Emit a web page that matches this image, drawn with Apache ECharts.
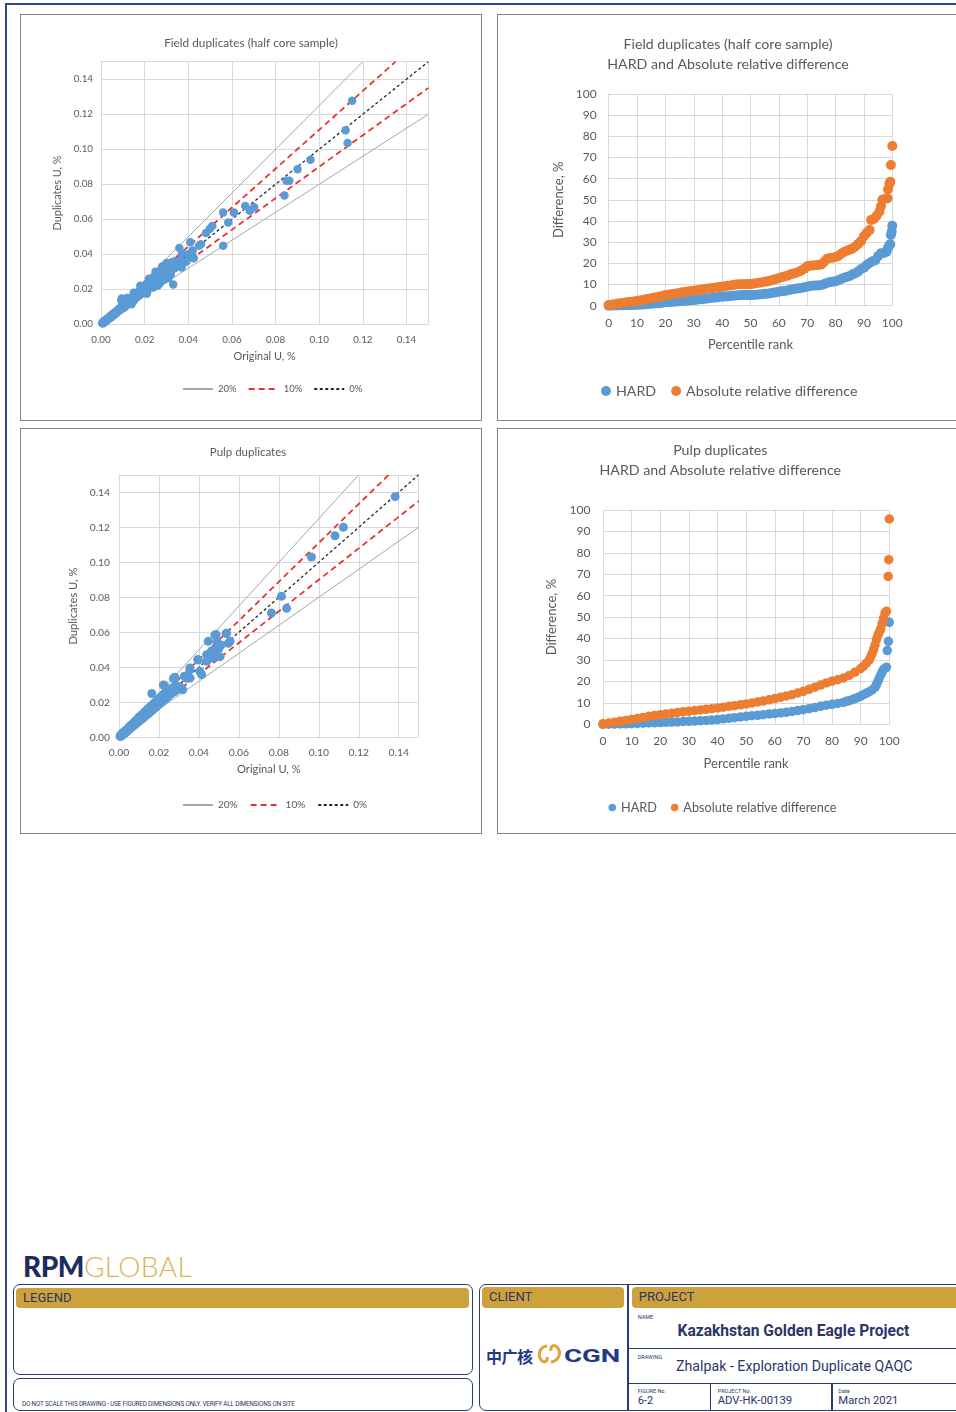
<!DOCTYPE html>
<html><head><meta charset="utf-8">
<script src="https://cdn.jsdelivr.net/npm/echarts@6/dist/echarts.min.js"></script>
<style>
html,body{margin:0;padding:0;background:#fff;}
body{width:956px;height:1412px;position:relative;overflow:hidden;font-family:Roboto,'Noto Sans',sans-serif;color:#2B3568;}
.abs{position:absolute;white-space:nowrap;}
.panel{position:absolute;box-sizing:border-box;border:1.5px solid #858585;pointer-events:none;z-index:5;}
.chart{position:absolute;}
.box{position:absolute;box-sizing:border-box;border:1.5px solid #2B3A7A;border-radius:7px;}
.gold{position:absolute;background:#CDA23C;border-radius:4px;color:#2B3568;font-size:13px;line-height:20px;box-sizing:border-box;padding-left:7px;}
.tiny{position:absolute;font-size:5.5px;line-height:6px;color:#2B3568;white-space:nowrap;}
</style></head><body>
<!-- frame -->
<div class="abs" style="left:5px;top:3px;width:951px;height:1.6px;background:#2E4A88"></div>
<div class="abs" style="left:5px;top:3px;width:1.8px;height:1409px;background:#2E4A88"></div>

<div class="panel" style="left:20px;top:14px;width:462px;height:406.5px"></div>
<div class="panel" style="left:496.5px;top:14px;width:470px;height:406.5px"></div>
<div class="panel" style="left:20px;top:427.5px;width:462px;height:406px"></div>
<div class="panel" style="left:496.5px;top:427.5px;width:470px;height:406px"></div>

<div id="c1" class="chart" style="left:20px;top:15px;width:462px;height:405px"></div>
<div id="c2" class="chart" style="left:497px;top:15px;width:462px;height:405px"></div>
<div id="c3" class="chart" style="left:20px;top:428px;width:462px;height:405px"></div>
<div id="c4" class="chart" style="left:497px;top:428px;width:462px;height:405px"></div>

<!-- footer -->
<div class="abs" style="left:23px;top:1252px;height:28px;line-height:28px;font-family:Lato,sans-serif;font-size:28px;">
<span style="font-weight:900;color:#1F2A5E;letter-spacing:-0.5px">RPM</span><span style="font-weight:300;color:#DDB54A;letter-spacing:0.4px">GLOBAL</span></div>

<div class="box" style="left:12.5px;top:1284px;width:460px;height:91px"></div>
<div class="gold" style="left:16px;top:1287.7px;width:453px;height:20.3px">LEGEND</div>
<div class="box" style="left:12.5px;top:1377.5px;width:460px;height:33.5px"></div>
<div class="tiny" style="left:22px;top:1401px;font-size:6.3px;line-height:7px;letter-spacing:-0.15px">DO NOT SCALE THIS DRAWING - USE FIGURED DIMENSIONS ONLY. VERIFY ALL DIMENSIONS ON SITE</div>

<div class="box" style="left:478.5px;top:1284px;width:500px;height:127px"></div>
<div class="abs" style="left:627px;top:1284px;width:1.5px;height:127px;background:#2B3A7A"></div>
<div class="gold" style="left:482px;top:1287.3px;width:141.7px;height:20.4px">CLIENT</div>
<div class="gold" style="left:631.7px;top:1287.3px;width:340px;height:20.4px">PROJECT</div>
<div class="abs" style="left:486px;top:1345px;height:22px;line-height:22px;font-family:'Noto Sans CJK SC',sans-serif;font-weight:700;font-size:16px;color:#1F3A8A;letter-spacing:-0.5px">中广核</div>
<svg class="abs" style="left:535px;top:1342px" width="30" height="24" viewBox="0 0 30 24">
<path d="M12 4 C4 5 2 14 7 19 C10 21 13 19 12 15" fill="none" stroke="#E3A13A" stroke-width="3"/>
<path d="M16 20 C24 19 27 10 22 5 C19 2 15 4 16 9" fill="none" stroke="#E3A13A" stroke-width="3"/>
</svg>
<div class="abs" style="left:564px;top:1344px;height:24px;line-height:24px;font-family:Roboto,sans-serif;font-weight:700;font-size:19px;color:#1F3A8A;transform:scaleX(1.45);transform-origin:left center">CGN</div>

<div class="tiny" style="left:637.7px;top:1313.5px">NAME</div>
<div class="abs" style="left:677.5px;top:1321px;height:20px;line-height:20px;font-size:15.6px;font-weight:700;color:#2B3568">Kazakhstan Golden Eagle Project</div>
<div class="abs" style="left:627px;top:1347.5px;width:340px;height:1.5px;background:#2B3A7A"></div>
<div class="tiny" style="left:637.7px;top:1353.5px">DRAWING</div>
<div class="abs" style="left:676px;top:1356px;height:20px;line-height:20px;font-size:14.2px;color:#2B3568">Zhalpak - Exploration Duplicate QAQC</div>
<div class="abs" style="left:627px;top:1382.5px;width:340px;height:1.5px;background:#2B3A7A"></div>
<div class="abs" style="left:709.5px;top:1383px;width:1.5px;height:28px;background:#2B3A7A"></div>
<div class="abs" style="left:831px;top:1383px;width:1.5px;height:28px;background:#2B3A7A"></div>
<div class="tiny" style="left:637.7px;top:1388px">FIGURE No.</div>
<div class="abs" style="left:637.7px;top:1394px;height:14px;line-height:14px;font-size:11px;color:#2B3568">6-2</div>
<div class="tiny" style="left:717.7px;top:1388px">PROJECT No.</div>
<div class="abs" style="left:717.7px;top:1394px;height:14px;line-height:14px;font-size:11.3px;color:#2B3568">ADV-HK-00139</div>
<div class="tiny" style="left:838.3px;top:1388px">Date</div>
<div class="abs" style="left:838.3px;top:1394px;height:14px;line-height:14px;font-size:11.3px;color:#2B3568">March 2021</div>

<script>
// ---------------- DATA ----------------
const scatterTickLabels = ['0.00','0.02','0.04','0.06','0.08','0.10','0.12','0.14'];
const percentileTicks = [0,10,20,30,40,50,60,70,80,90,100];

// reference lines (Original, Duplicate) endpoints
const line20Upper = [[0,0],[0.12,0.15]];
const line20Lower = [[0,0],[0.15,0.12]];
const line10Upper = [[0,0],[0.135,0.15]];
const line10Lower = [[0,0],[0.15,0.135]];
const line0 = [[0,0],[0.15,0.15]];

// Field duplicates (half core): [original U %, duplicate U %]
const fieldPoints = [
[0.1151,0.1277],[0.1121,0.1109],[0.113,0.1035],[0.096,0.094],[0.0901,0.0885],[0.085,0.082],[0.0863,0.082],[0.0841,0.0736],
[0.0702,0.0668],[0.0682,0.0649],[0.0661,0.0676],[0.0609,0.0639],[0.056,0.0639],[0.0583,0.0582],[0.056,0.0449],[0.051,0.0561],
[0.0499,0.0546],[0.0481,0.0521],[0.0458,0.0457],[0.0449,0.0449],[0.0409,0.0468],[0.042,0.0422],[0.0359,0.0436],[0.04,0.04],
[0.0421,0.0381],[0.0391,0.0358],[0.0369,0.0325],[0.0374,0.0348],[0.0331,0.0228],[0.0324,0.0354],[0.0319,0.0301],[0.0336,0.032],
[0.0301,0.0301],[0.0255,0.0253],[0.027,0.030],[0.0308,0.0263],[0.0372,0.0406],[0.0364,0.0367],[0.0418,0.0396],[0.0425,0.0377],
[0.021,0.0175],[0.024,0.021],[0.027,0.0235],[0.029,0.0255],[0.031,0.027],[0.022,0.026],[0.025,0.03],[0.028,0.033],
[0.03,0.035],[0.018,0.022],[0.015,0.018],[0.012,0.015],[0.026,0.022],[0.032,0.0285],
[0.0005,0.0008],[0.0008,0.0004],[0.001,0.0012],[0.0012,0.0018],[0.0015,0.001],[0.0018,0.0022],[0.002,0.0016],[0.0023,0.0027],
[0.0025,0.002],[0.0028,0.0031],[0.003,0.0026],[0.0033,0.0036],[0.0035,0.003],[0.0038,0.0041],[0.004,0.0034],[0.0043,0.0047],
[0.0046,0.004],[0.0048,0.0052],[0.005,0.0046],[0.0053,0.0057],[0.0056,0.005],[0.0058,0.0062],[0.006,0.0055],[0.0063,0.0068],
[0.0066,0.006],[0.0068,0.0072],[0.007,0.0064],[0.0073,0.0078],[0.0076,0.007],[0.0078,0.0083],[0.008,0.0076],[0.0083,0.0088],
[0.0086,0.008],[0.0088,0.0094],[0.009,0.0085],[0.0093,0.0135],[0.0095,0.0148],[0.0097,0.0104],[0.01,0.0092],[0.0102,0.0125],
[0.0105,0.0113],[0.0108,0.0098],[0.011,0.0128],[0.0112,0.0105],[0.0115,0.0121],[0.0118,0.0135],[0.012,0.0112],[0.0123,0.0128],
[0.0126,0.0117],[0.0128,0.0141],[0.013,0.0122],[0.0133,0.0136],[0.0136,0.0128],[0.0138,0.0152],[0.014,0.0115],[0.0143,0.0147],
[0.0146,0.0138],[0.0148,0.0158],[0.015,0.0135],[0.0153,0.0161],[0.0156,0.0148],[0.0158,0.0171],[0.016,0.0152],[0.0163,0.0175],
[0.0166,0.0158],[0.0168,0.0182],[0.017,0.016],[0.0173,0.0186],[0.0176,0.0168],[0.0178,0.0192],[0.018,0.0172],[0.0183,0.0198],
[0.0186,0.0178],[0.0188,0.0203],[0.019,0.0181],[0.0193,0.021],[0.0196,0.0187],[0.0198,0.0215],[0.02,0.019],[0.0203,0.0224],
[0.0206,0.0196],[0.021,0.0228],[0.0213,0.0202],[0.0216,0.0235],[0.022,0.0208],[0.0223,0.0242],[0.0226,0.0214],[0.023,0.0255],
[0.0233,0.0222],[0.0236,0.0262],[0.024,0.0228],[0.0243,0.027],[0.0246,0.0236],[0.025,0.0278],[0.0253,0.0242],[0.0256,0.0265],
[0.026,0.0248],[0.0263,0.0285],[0.0266,0.0256],[0.027,0.0292],[0.0273,0.0262],[0.0276,0.0298],[0.028,0.0268],[0.0283,0.0305],
[0.0286,0.0274],[0.029,0.0312],[0.0293,0.0281],[0.0296,0.032],[0.03,0.0286],[0.0303,0.0328],[0.0306,0.0294],[0.031,0.0335],
[0.0314,0.0301],[0.0318,0.0342],[0.0322,0.0312],[0.0326,0.0355],[0.033,0.0318],[0.0335,0.0335],[0.034,0.0362],[0.0345,0.0328]
];

// Pulp duplicates: [original U %, duplicate U %]
const pulpPoints = [
[0.1382,0.1375],[0.1123,0.12],[0.1081,0.1152],[0.0963,0.103],[0.0813,0.0806],[0.0839,0.0737],[0.0763,0.071],[0.0536,0.0594],
[0.0556,0.0549],[0.0486,0.0587],[0.0447,0.0549],[0.0489,0.0549],[0.0501,0.051],[0.0464,0.0495],[0.0439,0.0472],[0.0467,0.0453],
[0.0506,0.0461],[0.0439,0.0434],[0.0394,0.0444],[0.0405,0.0377],[0.0414,0.0358],[0.0355,0.0396],[0.0355,0.0339],[0.0327,0.0349],
[0.028,0.0343],[0.0319,0.0272],[0.0227,0.0297],[0.0164,0.025],[0.048,0.0585],[0.0539,0.0594],[0.0547,0.0537],[0.0455,0.048],
[0.0397,0.0442],[0.0355,0.0385],[0.0339,0.0337],[0.0272,0.0337],[0.0305,0.0289],[0.0222,0.0299],[0.0492,0.0505],[0.0512,0.0528],
[0.047,0.0468],[0.0452,0.0455],[0.0478,0.0478],
[0.0005,0.0005],[0.0008,0.0012],[0.001,0.0006],[0.0012,0.0018],[0.0015,0.0011],[0.0018,0.0024],[0.002,0.0015],[0.0023,0.0028],
[0.0026,0.002],[0.0028,0.0033],[0.003,0.0026],[0.0033,0.0038],[0.0036,0.003],[0.0038,0.0042],[0.004,0.0034],[0.0043,0.0048],
[0.0046,0.004],[0.0048,0.0055],[0.005,0.0045],[0.0053,0.006],[0.0056,0.005],[0.0058,0.0066],[0.006,0.0055],[0.0063,0.0071],
[0.0066,0.006],[0.0068,0.0076],[0.007,0.0064],[0.0073,0.0082],[0.0076,0.0069],[0.0078,0.0088],[0.008,0.0073],[0.0083,0.0093],
[0.0086,0.0079],[0.0088,0.0099],[0.009,0.0083],[0.0093,0.0104],[0.0096,0.0088],[0.0098,0.0112],[0.01,0.0092],[0.0103,0.0118],
[0.0106,0.0098],[0.0108,0.0121],[0.011,0.0101],[0.0113,0.0126],[0.0116,0.0107],[0.0118,0.0132],[0.012,0.011],[0.0123,0.0138],
[0.0126,0.0116],[0.0128,0.0143],[0.013,0.012],[0.0133,0.0148],[0.0136,0.0126],[0.0138,0.0154],[0.014,0.013],[0.0143,0.0158],
[0.0146,0.0136],[0.0148,0.0165],[0.015,0.0139],[0.0153,0.017],[0.0156,0.0145],[0.0158,0.0175],[0.016,0.0148],[0.0163,0.018],
[0.0166,0.0155],[0.0168,0.0185],[0.017,0.0158],[0.0173,0.0191],[0.0176,0.0165],[0.0178,0.0196],[0.018,0.0168],[0.0183,0.0201],
[0.0186,0.0175],[0.0188,0.0208],[0.019,0.0179],[0.0193,0.0213],[0.0196,0.0186],[0.0198,0.0218],[0.02,0.019],[0.0203,0.0224],
[0.0206,0.0196],[0.021,0.0232],[0.0213,0.0203],[0.0216,0.0238],[0.022,0.021],[0.0223,0.0245],[0.0226,0.0216],[0.023,0.025],
[0.0234,0.0222],[0.0238,0.0258],[0.0242,0.023],[0.0246,0.0265],[0.025,0.0238],[0.0255,0.027],[0.026,0.0248],[0.0265,0.0262],
[0.027,0.0285],[0.0275,0.0258],[0.028,0.0278],[0.0286,0.0296],[0.029,0.0272]
];

// Field duplicates: [percentile rank, HARD %]
const fieldHard = [
[0,0],[1,0.1],[2,0.1],[3,0.1],[4,0.2],[5,0.2],[6,0.2],[7,0.3],[8,0.3],[9,0.3],[10,0.4],[11,0.5],[12,0.6],[13,0.7],[14,0.8],
[15,0.9],[16,1.0],[17,1.1],[18,1.2],[19,1.4],[20,1.6],[21,1.7],[22,1.8],[23,1.9],[24,2.0],[25,2.1],[26,2.2],[27,2.3],[28,2.4],
[29,2.6],[30,2.7],[31,2.8],[32,3.0],[33,3.1],[34,3.3],[35,3.4],[36,3.6],[37,3.8],[38,3.9],[39,4.1],[40,4.3],[41,4.4],[42,4.5],
[43,4.6],[44,4.7],[45,4.8],[46,4.9],[47,5.0],[48,5.0],[49,5.0],[50,5.0],[51,5.1],[52,5.2],[53,5.3],[54,5.4],[55,5.6],[56,5.7],
[57,5.9],[58,6.1],[59,6.3],[60,6.6],[61,6.8],[62,7.0],[63,7.2],[64,7.5],[65,7.8],[66,8.0],[67,8.2],[68,8.4],[69,8.7],[70,9.0],
[71,9.3],[72,9.4],[73,9.5],[74,9.6],[75,9.8],[76,10.2],[77,10.7],[78,11.2],[79,11.3],[80,11.5],[81,12.0],[82,12.6],[83,13.2],
[84,13.6],[85,14.0],[86,14.8],[87,15.3],[88,16.2],[89,17.3],[90,18.0],[91,19.2],[92,20.2],[93,21.0],[94,21.5],[95,23.5],
[96,24.8],[97,24.9],[98,25.5],[98.5,27.5],[99,28.7],[99.3,29.0],[99.5,33.4],[99.8,35.0],[100,37.8]
];
// Field duplicates: [percentile rank, absolute relative difference %]
const fieldArd = [
[0,0.3],[1,0.5],[2,0.7],[3,0.9],[4,1.1],[5,1.3],[6,1.5],[7,1.7],[8,1.9],[9,2.0],[10,2.2],[11,2.5],[12,2.7],[13,3.0],[14,3.2],
[15,3.5],[16,3.7],[17,4.0],[18,4.3],[19,4.6],[20,5.0],[21,5.2],[22,5.4],[23,5.6],[24,5.8],[25,6.0],[26,6.3],[27,6.5],[28,6.7],
[29,6.9],[30,7.1],[31,7.3],[32,7.5],[33,7.7],[34,7.9],[35,8.1],[36,8.3],[37,8.4],[38,8.6],[39,8.8],[40,9.0],[41,9.2],[42,9.4],
[43,9.6],[44,9.8],[45,10.0],[46,10.1],[47,10.1],[48,10.1],[49,10.2],[50,10.2],[51,10.4],[52,10.6],[53,10.8],[54,11.0],[55,11.3],
[56,11.5],[57,11.8],[58,12.2],[59,12.6],[60,13.0],[61,13.4],[62,13.8],[63,14.2],[64,14.7],[65,15.1],[66,15.5],[67,16.0],[68,16.6],
[69,17.5],[70,18.6],[71,18.9],[72,19.0],[73,19.1],[74,19.2],[75,19.5],[76,20.8],[77,22.2],[78,22.5],[79,22.7],[80,23.0],[81,23.5],
[82,24.5],[83,25.4],[84,26.0],[85,26.5],[86,27.0],[87,28.0],[88,29.2],[89,30.5],[90,32.8],[91,34.5],[92,35.7],[92.5,40.5],
[93.5,41.0],[94.5,42.5],[95.5,44.5],[96,47.0],[96.5,50.0],[97.5,50.5],[98.3,50.7],[98.5,55.0],[99,57.5],[99.3,58.6],[99.5,66.5],[100,75.4]
];
// Pulp duplicates: [percentile rank, HARD %]
const pulpHard = [
[0,0],[2,0.05],[4,0.1],[6,0.15],[8,0.2],[10,0.3],[12,0.4],[14,0.5],[16,0.6],[18,0.7],[20,0.8],[22,0.9],[24,1.0],[26,1.1],
[28,1.3],[30,1.4],[32,1.5],[34,1.7],[36,1.8],[38,2.0],[40,2.2],[42,2.5],[44,2.8],[46,3.1],[48,3.4],[50,3.7],[52,4.0],[54,4.2],
[56,4.5],[58,4.8],[60,5.0],[62,5.3],[64,5.6],[66,6.0],[68,6.4],[70,6.8],[72,7.3],[74,7.8],[76,8.4],[78,8.9],[80,9.3],[82,9.7],
[84,10.2],[85,10.7],[86,11.0],[87,11.5],[88,12.0],[89,12.5],[90,13.1],[91,13.8],[92,14.5],[93,15.2],[94,16.0],[95,17.2],
[95.5,18.5],[96,20.0],[96.5,21.6],[97,23.0],[97.5,24.5],[98,25.5],[98.5,26.2],[99,26.6],[99.3,34.4],[99.7,38.7],[100,47.6]
];
// Pulp duplicates: [percentile rank, absolute relative difference %]
const pulpArd = [
[0,0.2],[2,0.6],[4,1.0],[6,1.4],[8,1.8],[10,2.2],[12,2.7],[14,3.2],[16,3.7],[18,4.1],[20,4.5],[22,4.8],[24,5.1],[26,5.5],
[28,5.8],[30,6.1],[32,6.4],[34,6.7],[36,7.0],[38,7.3],[40,7.6],[42,8.0],[44,8.4],[46,8.7],[48,9.1],[50,9.5],[52,9.9],[54,10.4],
[56,10.9],[58,11.4],[60,12.0],[62,12.6],[64,13.2],[66,13.8],[68,14.6],[70,15.4],[72,16.3],[74,17.3],[76,18.3],[78,19.3],
[80,20.1],[82,20.8],[84,21.6],[86,22.8],[88,24.3],[90,26.0],[91,27.1],[92,28.5],[93,30.0],[93.5,31.5],[94,33.0],[94.5,34.8],
[95,37.0],[95.5,39.5],[96,41.5],[96.5,43.0],[97,44.5],[97.5,47.0],[98,49.6],[98.5,52.0],[99,52.7],[99.6,69.0],[99.8,76.8],[100,95.8]
];

// ---------------- RENDER ----------------
const TXT = '#595959';
const FONT = 'Lato, "Open Sans", sans-serif';
const GRIDC = '#D9D9D9';
const BLUE = '#5B9BD5', ORANGE = '#ED7D31';

function scatterOption(cfg){
  const label = (margin) => ({color:TXT, fontFamily:FONT, fontSize:cfg.tick, showMaxLabel:false, margin,
      formatter:(v)=>{ const i = Math.round(v/0.02); return (Math.abs(v - i*0.02) < 1e-9 && scatterTickLabels[i]) ? scatterTickLabels[i] : ''; }});
  const ax = (name, gap, margin) => ({
    type:'value', min:0, max:0.15, interval:0.02, name, nameGap:gap,
    axisLine:{show:false}, axisTick:{show:false},
    splitLine:{show:true, lineStyle:{color:GRIDC, width:1}},
    axisLabel:label(margin),
    nameLocation:'middle', nameTextStyle:{color:TXT, fontFamily:FONT, fontSize:cfg.nameSize}
  });
  const mkLine = (name, data, color, width, type) => ({
    type:'line', name, data, symbol:'none', silent:true, z:1,
    lineStyle:{color, width, type}, itemStyle:{color}
  });
  const dashRed = [6,4], dotBlack = [3,2.5];
  return {
    animation:false,
    title:{text:cfg.title, left:cfg.titleLeft, top:cfg.titleTop, textAlign:'center',
      textStyle:{color:TXT, fontFamily:FONT, fontSize:cfg.titleSize, fontWeight:'normal'}},
    grid:cfg.grid,
    legend:{data:['20%','10%','0%'], left:cfg.legendLeft, top:cfg.legendTop, itemWidth:30, itemHeight:8, itemGap:cfg.legendGap,
      itemStyle:{color:'rgba(0,0,0,0)', borderColor:'rgba(0,0,0,0)', borderWidth:0},
      textStyle:{color:TXT, fontFamily:FONT, fontSize:cfg.legendSize}},
    xAxis:ax('Original U, %', cfg.xNameGap, cfg.xMargin),
    yAxis:ax('Duplicates U, %', cfg.yNameGap, cfg.yMargin),
    series:[
      mkLine('20%', line20Upper, '#A6A6A6', 1, 'solid'),
      mkLine('20%', line20Lower, '#A6A6A6', 1, 'solid'),
      mkLine('10%', line10Upper, '#E8322B', 1.8, dashRed),
      mkLine('10%', line10Lower, '#E8322B', 1.8, dashRed),
      mkLine('0%', line0, '#262626', 1.3, dotBlack),
      {type:'scatter', name:'data', data:cfg.points, symbolSize:cfg.sym, z:3,
        itemStyle:{color:BLUE, opacity:1}}
    ]
  };
}

function percOption(cfg){
  const ax = (name, gap, margin) => ({
    type:'value', min:0, max:100, interval:10, name, nameGap:gap, nameLocation:'middle',
    nameTextStyle:{color:TXT, fontFamily:FONT, fontSize:cfg.nameSize},
    axisLine:{show:false}, axisTick:{show:false},
    splitLine:{show:true, lineStyle:{color:GRIDC, width:1}},
    axisLabel:{color:TXT, fontFamily:FONT, fontSize:cfg.tick, margin,
      formatter:(v)=> percentileTicks.indexOf(v) >= 0 ? String(v) : ''}
  });
  return {
    animation:false,
    title:{text:cfg.title, left:cfg.titleLeft, top:cfg.titleTop, textAlign:'center',
      textStyle:{color:TXT, fontFamily:FONT, fontSize:cfg.titleSize, fontWeight:'normal', lineHeight:19.4}},
    grid:cfg.grid,
    legend:{data:['HARD','Absolute relative difference'], left:cfg.legendLeft, top:cfg.legendTop,
      icon:'circle', itemWidth:cfg.legendIcon, itemHeight:cfg.legendIcon, itemGap:cfg.legendGap,
      textStyle:{color:TXT, fontFamily:FONT, fontSize:cfg.legendSize}},
    xAxis:ax('Percentile rank', cfg.xNameGap, cfg.xMargin),
    yAxis:ax('Difference, %', cfg.yNameGap, cfg.yMargin),
    series:[
      {type:'scatter', name:'HARD', data:cfg.hard, symbolSize:cfg.sym, itemStyle:{color:BLUE, opacity:1}},
      {type:'scatter', name:'Absolute relative difference', data:cfg.ard, symbolSize:cfg.sym, itemStyle:{color:ORANGE, opacity:1}}
    ]
  };
}

echarts.init(document.getElementById('c1'), null, {renderer:'canvas'}).setOption(scatterOption({
  title:'Field duplicates (half core sample)', titleLeft:226, titleTop:17, titleSize:11.8,
  grid:{left:81, right:53.7, top:46.7, bottom:95.7},
  legendLeft:157, legendTop:364, legendGap:11, legendSize:9.5,
  tick:9.8, nameSize:10.9, xNameGap:27, yNameGap:31.5, xMargin:11, yMargin:8,
  points:fieldPoints, sym:8.5
}));
echarts.init(document.getElementById('c3'), null, {renderer:'canvas'}).setOption(scatterOption({
  title:'Pulp duplicates', titleLeft:223, titleTop:13.5, titleSize:11.5,
  grid:{left:99, right:63.3, top:46.8, bottom:95.7},
  legendLeft:157, legendTop:367, legendGap:12, legendSize:10,
  tick:10.3, nameSize:11.2, xNameGap:27, yNameGap:31.5, xMargin:10, yMargin:9,
  points:pulpPoints, sym:9
}));
echarts.init(document.getElementById('c2'), null, {renderer:'canvas'}).setOption(percOption({
  title:'Field duplicates (half core sample)\nHARD and Absolute relative difference', titleLeft:226, titleTop:15, titleSize:14.2,
  grid:{left:111.7, right:66.7, top:79, bottom:114.3},
  legendLeft:99, legendTop:364, legendIcon:10, legendGap:15, legendSize:14.2,
  tick:12, nameSize:13, xNameGap:33, yNameGap:37.5, xMargin:11, yMargin:12,
  hard:fieldHard, ard:fieldArd, sym:10
}));
echarts.init(document.getElementById('c4'), null, {renderer:'canvas'}).setOption(percOption({
  title:'Pulp duplicates\nHARD and Absolute relative difference', titleLeft:218.3, titleTop:8, titleSize:14.2,
  grid:{left:106, right:69.7, top:82, bottom:108.7},
  legendLeft:106.5, legendTop:368, legendIcon:7.5, legendGap:14, legendSize:12.7,
  tick:12, nameSize:13, xNameGap:33, yNameGap:40, xMargin:11, yMargin:12.5,
  hard:pulpHard, ard:pulpArd, sym:9.5
}));
</script>
</body></html>
